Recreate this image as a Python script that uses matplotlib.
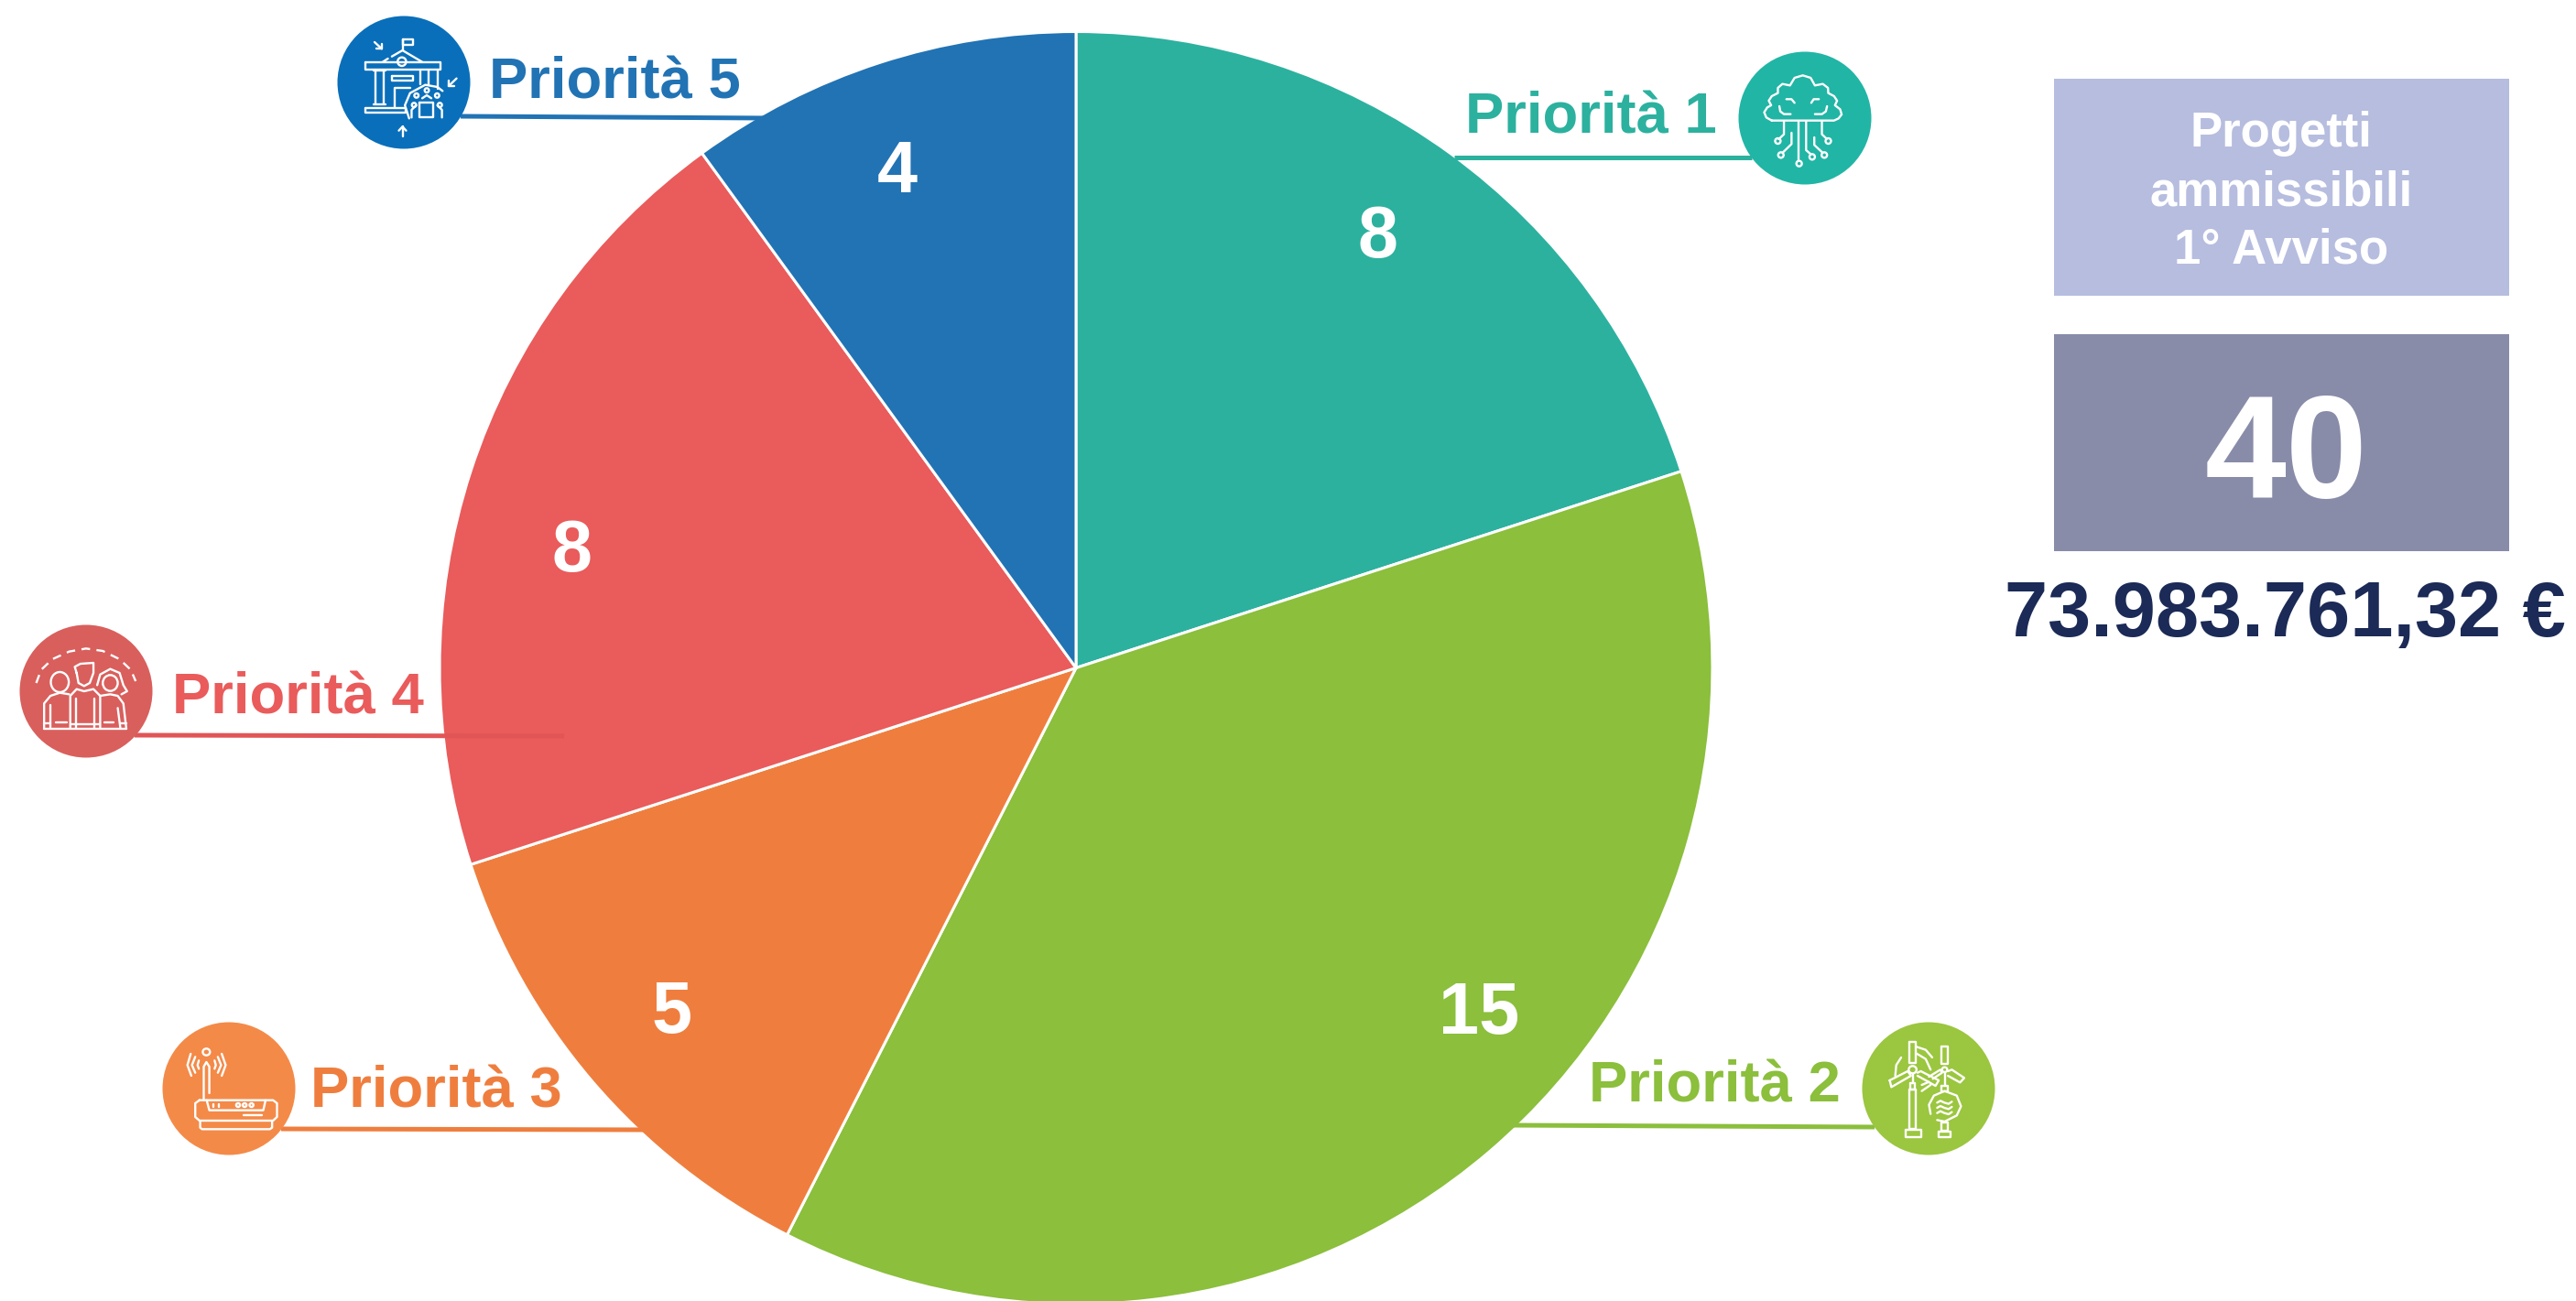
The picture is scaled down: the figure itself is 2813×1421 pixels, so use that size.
import matplotlib
matplotlib.use('Agg')
import matplotlib.pyplot as plt
from matplotlib.patches import Circle, Ellipse, Rectangle

plt.rcParams['font.family'] = ['Liberation Sans', 'DejaVu Sans']

W, H = 2813, 1421

categories = ['Priorità 1', 'Priorità 2', 'Priorità 3', 'Priorità 4', 'Priorità 5']
values = [8, 15, 5, 8, 4]
total = 40
amount = '73.983.761,32 €'
box_title = 'Progetti\nammissibili\n1° Avviso'

wedge_colors = ['#2CB19F', '#8BBF3C', '#EF7E3E', '#EA5B5B', '#2173B4']
circle_colors = ['#21B5A5', '#9BC63F', '#F48A48', '#D95F5C', '#0A6FBA']

# label spots, in pixels of the picture
value_xy = [(1504, 281), (1615, 1129), (734, 1128), (624, 624), (980, 210)]
name_xy = [(1600, 146), (1735, 1204), (339, 1210), (188, 779), (534, 107)]
circle_xy = [(1971, 129), (2106, 1189), (250, 1189), (94, 755), (441, 90)]
leader_xy = [((1588, 172), (1913, 172)), ((1650, 1229), (2047, 1231)), ((307, 1233), (707, 1234)),
             ((147, 803), (616, 804)), ((503, 127), (837, 129))]

pie_cx, pie_cy, pie_r = 1175, 729.5, 695

fig = plt.figure(figsize=(W / 100, H / 100), dpi=100, facecolor='white')

# pie gets its own axes so y can stay upwards
pad = 1.02
pax = fig.add_axes([(pie_cx - pie_r * pad) / W, 1 - (pie_cy + pie_r * pad) / H,
                    2 * pie_r * pad / W, 2 * pie_r * pad / H])
pax.pie(values, colors=wedge_colors, startangle=90, counterclock=False, radius=1,
        wedgeprops={'edgecolor': 'white', 'linewidth': 2.2})
pax.set_xlim(-pad, pad)
pax.set_ylim(-pad, pad)

ax = fig.add_axes([0, 0, 1, 1])
ax.set_xlim(0, W)
ax.set_ylim(H, 0)
ax.axis('off')
ax.patch.set_alpha(0)


def icon(origin, sx, sy, lines, rounds=(), dashed=()):
    # icon strokes are noted in zoomed crop units, origin and scale bring them back to pixels
    ox, oy = origin
    for pts in lines:
        ax.plot([ox + p[0] / sx for p in pts], [oy + p[1] / sy for p in pts], color='white', lw=1.7,
                solid_capstyle='round', solid_joinstyle='round', zorder=6)
    for pts in dashed:
        ax.plot([ox + p[0] / sx for p in pts], [oy + p[1] / sy for p in pts], color='white', lw=1.7,
                ls=(0, (4, 3)), zorder=6)
    for x, y, rx, ry in rounds:
        ax.add_patch(Ellipse((ox + x / sx, oy + y / sy), 2 * rx / sx, 2 * ry / sy, fc='none', ec='white',
                             lw=1.7, zorder=6))


def box(x0, y0, x1, y1):
    return [(x0, y0), (x1, y0), (x1, y1), (x0, y1), (x0, y0)]


for i, name in enumerate(categories):
    p0, p1 = leader_xy[i]
    ax.plot([p0[0], p1[0]], [p0[1], p1[1]], color=wedge_colors[i] if i != 3 else '#E25556', lw=3.6,
            solid_capstyle='butt', zorder=3)
    ax.add_patch(Circle(circle_xy[i], 72.5, fc=circle_colors[i], ec='none', zorder=5))
    ax.text(name_xy[i][0], name_xy[i][1], name, color=wedge_colors[i], fontsize=45.6, fontweight='bold',
            ha='left', va='baseline')
    ax.text(value_xy[i][0], value_xy[i][1], str(values[i]), color='white', fontsize=57, fontweight='bold',
            ha='center', va='baseline')

# Priorita 1, cloud
icon((1560, 30), 3.015, 3,
     [[(1130, 305), (1112, 295), (1105, 278), (1115, 262), (1128, 255), (1120, 240), (1130, 225), (1150, 215),
       (1150, 198), (1165, 185), (1190, 190), (1205, 165), (1232, 157), (1258, 165), (1272, 190), (1298, 185),
       (1315, 198), (1316, 215), (1335, 225), (1345, 240), (1338, 255), (1355, 268), (1360, 285), (1350, 298),
       (1335, 305), (1130, 305)],
      [(1155, 258), (1158, 275), (1170, 284), (1192, 284)], [(1312, 258), (1308, 275), (1295, 284), (1272, 284)],
      [(1178, 235), (1195, 235), (1205, 247)], [(1285, 235), (1268, 235), (1260, 247)],
      [(1170, 308), (1170, 350), (1153, 366)], [(1195, 345), (1195, 382), (1166, 410)], [(1218, 308), (1218, 436)],
      [(1243, 308), (1243, 402), (1258, 415)], [(1270, 360), (1270, 385), (1297, 410)],
      [(1295, 308), (1295, 350), (1311, 365)]],
     [(1150, 372, 9, 9), (1160, 418, 9, 9), (1220, 446, 9, 9), (1263, 424, 9, 9), (1303, 418, 9, 9),
      (1316, 372, 9, 9)])

# Priorita 2, wind turbines
icon((1660, 1090), 2.8, 3,
     [box(1190, 300, 1210, 428), box(1178, 432, 1225, 455), box(1190, 143, 1210, 212),
      [(1130, 270), (1185, 240), (1195, 255), (1135, 292), (1130, 270)],
      [(1215, 245), (1225, 240), (1280, 270), (1270, 288), (1215, 255)],
      [(1200, 248), (1200, 280)], box(1192, 280, 1208, 300),
      [(1212, 160), (1240, 170), (1260, 195)], [(1212, 182), (1240, 200), (1255, 235)],
      [(1165, 195), (1150, 220), (1147, 255)], [(1228, 285), (1250, 275)], [(1228, 305), (1255, 285)],
      box(1287, 160, 1308, 217), [(1308, 240), (1320, 235), (1358, 262), (1345, 277), (1308, 255)],
      [(1250, 258), (1285, 235), (1290, 245), (1262, 265)], [(1298, 245), (1298, 288)], box(1288, 288, 1308, 305),
      [(1255, 380), (1250, 350), (1265, 320), (1298, 305), (1335, 320), (1348, 355), (1335, 385), (1298, 405),
       (1275, 400)],
      [(1275, 343), (1285, 337), (1297, 343), (1310, 347), (1320, 340)],
      [(1275, 360), (1285, 354), (1297, 360), (1310, 364), (1320, 357)],
      [(1275, 377), (1285, 371), (1297, 377), (1310, 381), (1320, 374)],
      box(1288, 408, 1308, 435), box(1280, 437, 1315, 455)],
     [(1200, 235, 12, 12), (1298, 235, 8, 8)])

# Priorita 3, router
icon((150, 1090), 2.8, 3,
     [[(203, 335), (203, 225), (211, 210), (220, 225), (220, 312)],
      [(163, 183), (153, 220), (165, 255)], [(177, 193), (167, 220), (177, 245)], [(188, 205), (184, 220), (188, 232)],
      [(258, 183), (270, 220), (258, 255)], [(246, 193), (256, 220), (246, 245)], [(236, 205), (240, 220), (236, 232)],
      [(190, 335), (415, 335), (427, 345), (427, 390), (415, 402), (190, 402), (177, 390), (177, 345), (190, 335)],
      [(212, 335), (220, 368), (385, 368), (392, 335)],
      [(192, 402), (192, 425), (198, 430), (405, 430), (412, 425), (412, 402)],
      [(325, 385), (382, 385)], [(233, 347), (233, 356)], [(250, 347), (250, 356)]],
     [(211, 177, 11, 11), (308, 351, 6, 6), (328, 351, 6, 6), (349, 351, 6, 6)])

# Priorita 4, people
icon((0, 660), 2.45, 3,
     [[(205, 225), (200, 205), (215, 195), (250, 192), (250, 225), (240, 258), (225, 268), (210, 258), (205, 225)],
      [(260, 265), (268, 230), (295, 212), (320, 225), (330, 265), (340, 285), (325, 295)],
      [(188, 405), (188, 300), (205, 278), (225, 285), (250, 278), (268, 300), (268, 405)],
      [(118, 408), (118, 325), (135, 300), (160, 290), (185, 295)],
      [(268, 300), (295, 295), (315, 300), (330, 325), (338, 408)], [(118, 408), (338, 408)],
      [(135, 330), (135, 405)], [(203, 310), (203, 405)], [(252, 310), (252, 405)], [(315, 340), (322, 405)],
      [(118, 390), (135, 390)], [(150, 388), (178, 388)], [(188, 392), (268, 392)], [(280, 388), (305, 388)],
      [(322, 390), (338, 390)]],
     [(160, 255, 24, 33), (295, 258, 20, 26)],
     [[(97, 258), (110, 215), (140, 180), (185, 155), (230, 145), (275, 153), (320, 180), (350, 215), (363, 252)]])

# Priorita 5, town hall
icon((340, 0), 3.015, 3,
     [box(178, 203, 425, 228), [(235, 203), (252, 192)], [(265, 185), (300, 165), (365, 203)], [(300, 165), (300, 128)],
      box(300, 128, 335, 148), box(178, 355, 310, 370), box(265, 250, 335, 265),
      [(212, 232), (212, 340)], [(238, 232), (238, 340)], [(205, 232), (245, 232)], [(205, 343), (245, 343)],
      [(358, 232), (358, 275)], [(385, 232), (385, 275)], [(415, 228), (415, 290)],
      [(275, 350), (275, 288), (325, 288)],
      [(322, 388), (308, 345), (325, 305), (375, 278), (415, 285), (432, 298)],
      [(330, 385), (330, 360), (345, 345)], [(430, 385), (430, 360), (415, 345)], box(355, 335, 400, 385),
      [(365, 322), (380, 312), (395, 322)],
      [(208, 138), (232, 160)], [(232, 143), (232, 160), (214, 160)],
      [(478, 257), (452, 282)], [(452, 265), (452, 282), (470, 282)],
      [(300, 448), (300, 415)], [(288, 428), (300, 415), (312, 428)]],
     [(298, 202, 14, 14), (346, 313, 7, 7), (380, 296, 7, 7), (414, 313, 7, 7), (338, 344, 7, 7), (423, 344, 7, 7)])

# right side boxes
ax.add_patch(Rectangle((2243, 86), 497, 237, fc='#B6BDDF', ec='none'))
ax.add_patch(Rectangle((2243, 365), 497, 237, fc='#888CA9', ec='none'))
for line, y in zip(box_title.split('\n'), [160, 224.5, 287.5]):
    ax.text(2491, y, line, color='white', fontsize=38, fontweight='bold', ha='center', va='baseline')
ax.text(2496, 543, str(total), color='white', fontsize=115, fontweight='bold', ha='center', va='baseline')
ax.text(2495, 695, amount, color='#1B2A56', fontsize=61, fontweight='bold', ha='center', va='baseline')

fig.savefig('out.png', dpi=100)
